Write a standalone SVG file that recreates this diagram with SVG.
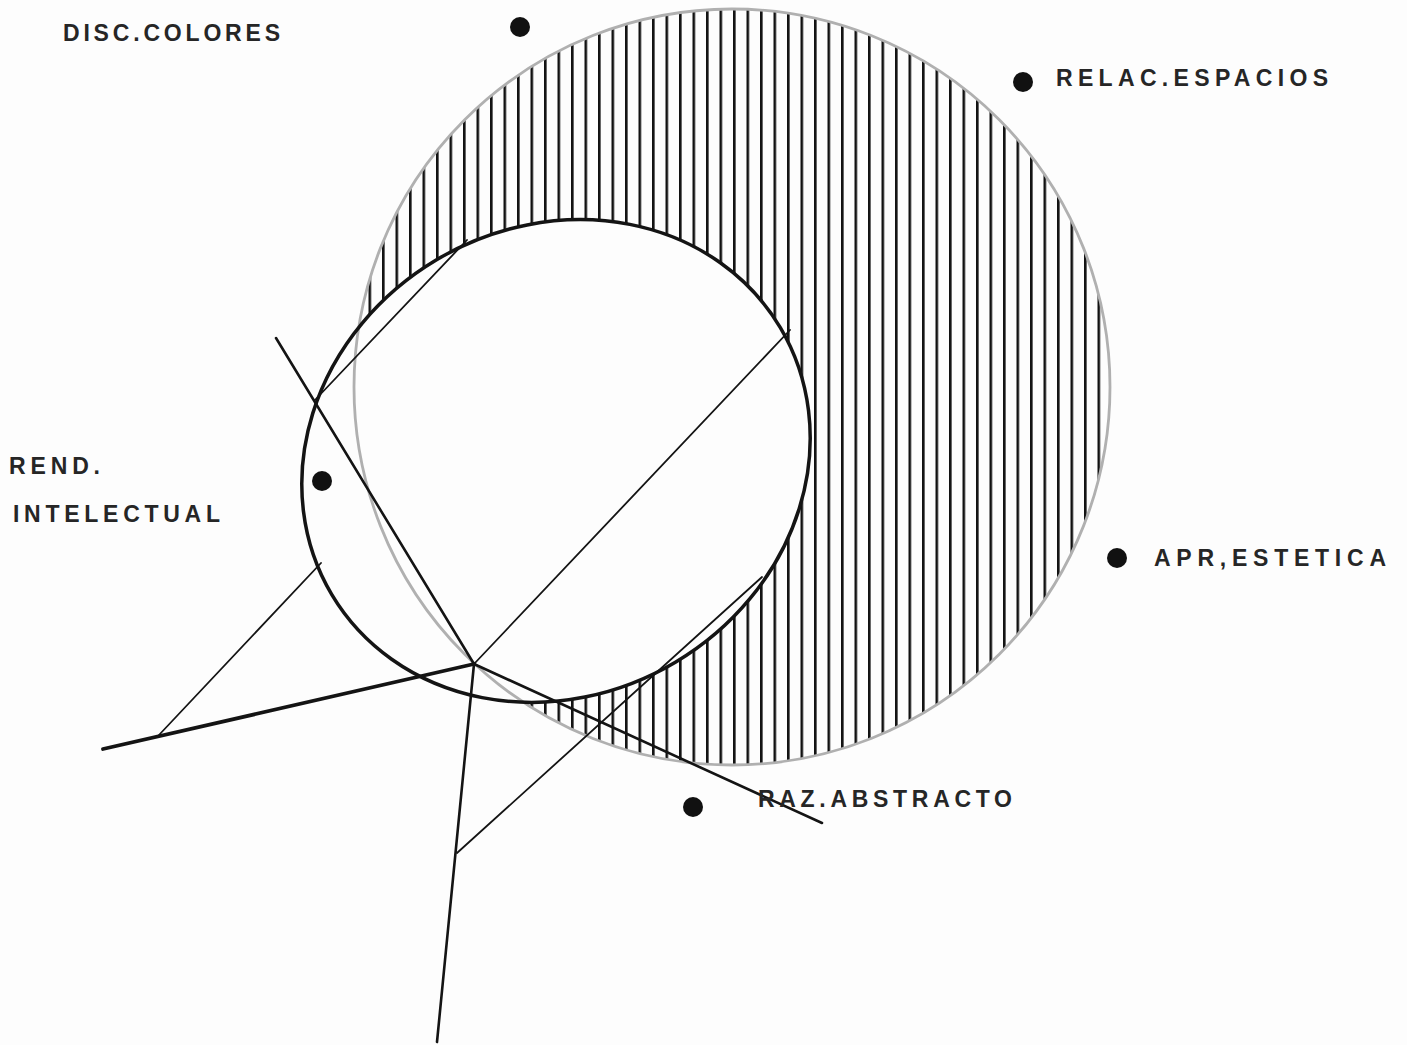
<svg xmlns="http://www.w3.org/2000/svg" width="1407" height="1045" viewBox="0 0 1407 1045">
  <defs>
    <pattern id="hatch" patternUnits="userSpaceOnUse" x="382" y="0" width="13.5" height="20">
      <rect x="0" y="0" width="2.6" height="20" fill="#111"/>
    </pattern>
    <style>
      .lbl { font-family: "Liberation Sans", Arial, sans-serif; font-size: 23px; font-weight: bold; fill: #262626; }
      .dot { fill: #111; }
      .thin { stroke: #141414; stroke-width: 1.8; fill: none; stroke-linecap: round; }
      .med { stroke: #141414; stroke-width: 2.6; fill: none; stroke-linecap: round; }
      .thick { stroke: #141414; stroke-width: 3.8; fill: none; stroke-linecap: round; }
    </style>
  </defs>
  <rect x="0" y="0" width="1407" height="1045" fill="#fdfdfd"/>

  <g id="shapes">
    <circle id="outer-circle-hatch" cx="732" cy="387" r="378" fill="url(#hatch)"/>
    <ellipse id="inner-ellipse-fill" cx="556" cy="461" rx="261" ry="234" transform="rotate(-30.8 556 461)" fill="#fdfdfd"/>
    <circle id="outer-circle" cx="732" cy="387" r="378" fill="none" stroke="#b0b0b0" stroke-width="2.8"/>
    <ellipse id="inner-ellipse" cx="556" cy="461" rx="261" ry="234" transform="rotate(-30.8 556 461)" fill="none" stroke="#141414" stroke-width="3.5"/>
  </g>

  <g id="connectors">
    <line class="med" x1="276" y1="338" x2="474" y2="664"/>
    <line class="thin" x1="474" y1="664" x2="790" y2="330"/>
    <line class="thick" x1="474" y1="664" x2="103" y2="749"/>
    <line class="med" x1="474" y1="664" x2="822" y2="823"/>
    <line class="med" x1="474" y1="664" x2="437" y2="1042"/>
    <line class="thin" x1="457" y1="853" x2="762" y2="577"/>
    <line class="thin" x1="159" y1="735" x2="321" y2="563"/>
    <line class="thin" x1="315" y1="400" x2="467" y2="240"/>
  </g>

  <g id="node-disc-colores">
    <circle class="dot" cx="520" cy="27" r="10"/>
    <text class="lbl" x="63" y="41" textLength="217" lengthAdjust="spacing">DISC.COLORES</text>
  </g>
  <g id="node-relac-espacios">
    <circle class="dot" cx="1023" cy="82" r="10"/>
    <text class="lbl" x="1056" y="86" textLength="272" lengthAdjust="spacing">RELAC.ESPACIOS</text>
  </g>
  <g id="node-rend-intelectual">
    <circle class="dot" cx="322" cy="481" r="10"/>
    <text class="lbl" x="9" y="474" textLength="91" lengthAdjust="spacing">REND.</text>
    <text class="lbl" x="13" y="522" textLength="207" lengthAdjust="spacing">INTELECTUAL</text>
  </g>
  <g id="node-apr-estetica">
    <circle class="dot" cx="1117" cy="558" r="10"/>
    <text class="lbl" x="1154" y="566" textLength="232" lengthAdjust="spacing">APR,ESTETICA</text>
  </g>
  <g id="node-raz-abstracto">
    <circle class="dot" cx="693" cy="807" r="10"/>
    <text class="lbl" x="758" y="807" textLength="254" lengthAdjust="spacing">RAZ.ABSTRACTO</text>
  </g>
</svg>
